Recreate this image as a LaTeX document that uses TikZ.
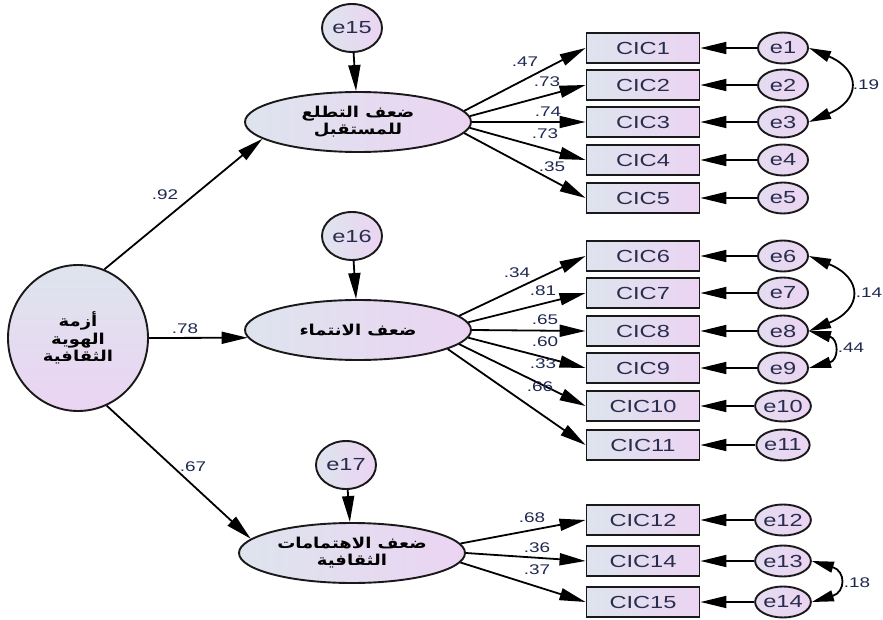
\documentclass[tikz,border=0pt]{standalone}
\usepackage{fontspec}
\setmainfont{Liberation Sans}[FakeStretch=1.35]
\newfontfamily\arabicfont[Script=Arabic,FakeStretch=1.2]{DejaVu Sans}
\TeXXeTstate=1
\usetikzlibrary{shapes.geometric,arrows.meta}
\definecolor{fillL}{HTML}{DEE4EE}
\definecolor{fillR}{HTML}{EBD4F2}
\definecolor{txt}{HTML}{2A2C4E}
\definecolor{numc}{HTML}{1E2850}
\tikzset{
  shp/.style={draw=black!90, line width=1.9pt, inner sep=0pt},
  obs/.style={shp, rectangle, minimum width=113pt, minimum height=30pt,
    left color=fillL, right color=fillR, text=txt, font=\fontsize{17.5}{17.5}\selectfont},
  err/.style={shp, ellipse, minimum width=50pt, minimum height=31pt,
    left color=fillL!50!fillR, right color=fillR, text=txt, font=\fontsize{17.5}{17.5}\selectfont},
  dist/.style={shp, ellipse, minimum width=60pt, minimum height=48pt,
    left color=fillL, right color=fillR, text=txt, font=\fontsize{17.5}{17.5}\selectfont},
  lat/.style={shp, ellipse, minimum width=226pt, minimum height=60pt,
    left color=fillL, right color=fillR, align=center,
    font=\arabicfont\bfseries\fontsize{15}{17}\selectfont},
  mainlat/.style={shp, ellipse, minimum width=140pt, minimum height=146pt,
    top color=fillL, bottom color=fillR, align=center,
    font=\arabicfont\bfseries\fontsize{15}{17.5}\selectfont},
  arr/.style={line width=1.8pt, -{Triangle[length=26pt,width=12pt]}},
  cov/.style={line width=1.8pt, {Triangle[length=22pt,width=11pt]}-{Triangle[length=22pt,width=11pt]}},
  lab/.style={inner sep=0pt, text=numc, font=\fontsize{14}{14}\selectfont}
}
\begin{document}
\begin{tikzpicture}[x=1pt,y=-1pt]
\useasboundingbox (0,0) rectangle (883,620);
% main latent
\node[mainlat] (main) at (78,338) {\beginR أزمة\endR\\\beginR الهوية\endR\\\beginR الثقافية\endR};
% latents
\node[lat] (lat1) at (358,122) {\beginR ضعف التطلع\endR\\\beginR للمستقبل\endR};
\node[lat] (lat2) at (358,330) {\beginR ضعف الانتماء\endR};
\node[lat] (lat3) at (352,553) {\beginR ضعف الاهتمامات\endR\\\beginR الثقافية\endR};
% disturbances
\node[dist] (e15) at (352,28) {e15};
\node[dist] (e16) at (352,236) {e16};
\node[dist] (e17) at (346,465) {e17};
% observed
\node[obs] (c1) at (643,48) {CIC1};
\node[obs] (c2) at (643,85) {CIC2};
\node[obs] (c3) at (643,122) {CIC3};
\node[obs] (c4) at (643,160) {CIC4};
\node[obs] (c5) at (643,198) {CIC5};
\node[obs] (c6) at (643,256) {CIC6};
\node[obs] (c7) at (643,293) {CIC7};
\node[obs] (c8) at (643,331) {CIC8};
\node[obs] (c9) at (643,368) {CIC9};
\node[obs] (c10) at (643,406) {CIC10};
\node[obs] (c11) at (643,445) {CIC11};
\node[obs] (c12) at (643,520) {CIC12};
\node[obs] (c14) at (643,561) {CIC14};
\node[obs] (c15) at (643,602) {CIC15};
% errors
\node[err] (e1) at (783,48) {e1};
\node[err] (e2) at (783,85) {e2};
\node[err] (e3) at (783,122) {e3};
\node[err] (e4) at (783,160) {e4};
\node[err] (e5) at (783,198) {e5};
\node[err] (e6) at (783,256) {e6};
\node[err] (e7) at (783,293) {e7};
\node[err] (e8) at (783,331) {e8};
\node[err] (e9) at (783,368) {e9};
\node[err] (e10) at (783,406) {e10};
\node[err] (e11) at (783,445) {e11};
\node[err] (e12) at (783,520) {e12};
\node[err] (e13) at (783,561) {e13};
\node[err] (e14) at (783,602) {e14};
% structural paths
\draw[arr] (main.69) -- (lat1.190);
\draw[arr] (main.0) -- (lat2.184);
\draw[arr] (main.-67) -- (lat3.172);
\node[lab] (l92) at (165,195) {.92};
\node[lab] (l78) at (185,329) {.78};
\node[lab] (l67) at (193,467) {.67};
% disturbances to latents
\draw[arr] (e15) -- (lat1);
\draw[arr] (e16) -- (lat2);
\draw[arr] (e17) -- (lat3);
% loadings
\draw[arr] (lat1.6) -- (c1.west);
\draw[arr] (lat1.3) -- (c2.west);
\draw[arr] (lat1.0) -- (c3.west);
\draw[arr] (lat1.-3) -- (c4.west);
\draw[arr] (lat1.-6) -- (c5.west);
\draw[arr] (lat2.8) -- (c6.west);
\draw[arr] (lat2.4) -- (c7.west);
\draw[arr] (lat2.0) -- (c8.west);
\draw[arr] (lat2.-4) -- (c9.west);
\draw[arr] (lat2.-8) -- (c10.west);
\draw[arr] (lat2.-12) -- (c11.west);
\draw[arr] (lat3.5) -- (c12.west);
\draw[arr] (lat3.0) -- (c14.west);
\draw[arr] (lat3.-5) -- (c15.west);
\node[lab] at (525,62) {.47};
\node[lab] at (547,82) {.73};
\node[lab] at (548,112) {.74};
\node[lab] at (545,134) {.73};
\node[lab] at (552,167) {.35};
\node[lab] at (517,273) {.34};
\node[lab] at (543,291) {.81};
\node[lab] at (545,320) {.65};
\node[lab] at (545,342) {.60};
\node[lab] at (543,364) {.33};
\node[lab] at (540,387) {.66};
\node[lab] at (532,518) {.68};
\node[lab] at (537,548) {.36};
\node[lab] at (537,570) {.37};
% error paths
\foreach \e/\c in {e1/c1,e2/c2,e3/c3,e4/c4,e5/c5,e6/c6,e7/c7,e8/c8,e9/c9,e10/c10,e11/c11,e12/c12,e13/c14,e14/c15}
  \draw[arr] (\e) -- (\c);
% covariances
\draw[cov] (e1.east) .. controls +(52,22) and +(52,-22) .. (e3.east);
\draw[cov] (e6.east) .. controls +(54,22) and +(54,-22) .. (e8.east);
\draw[cov] (e8.east) .. controls +(30,8) and +(30,-8) .. (e9.east);
\draw[cov] (e13.east) .. controls +(34,10) and +(34,-10) .. (e14.east);
\node[lab] at (866,85) {.19};
\node[lab] at (869,293) {.14};
\node[lab] at (851,348) {.44};
\node[lab] at (857,583) {.18};
\end{tikzpicture}
\end{document}
